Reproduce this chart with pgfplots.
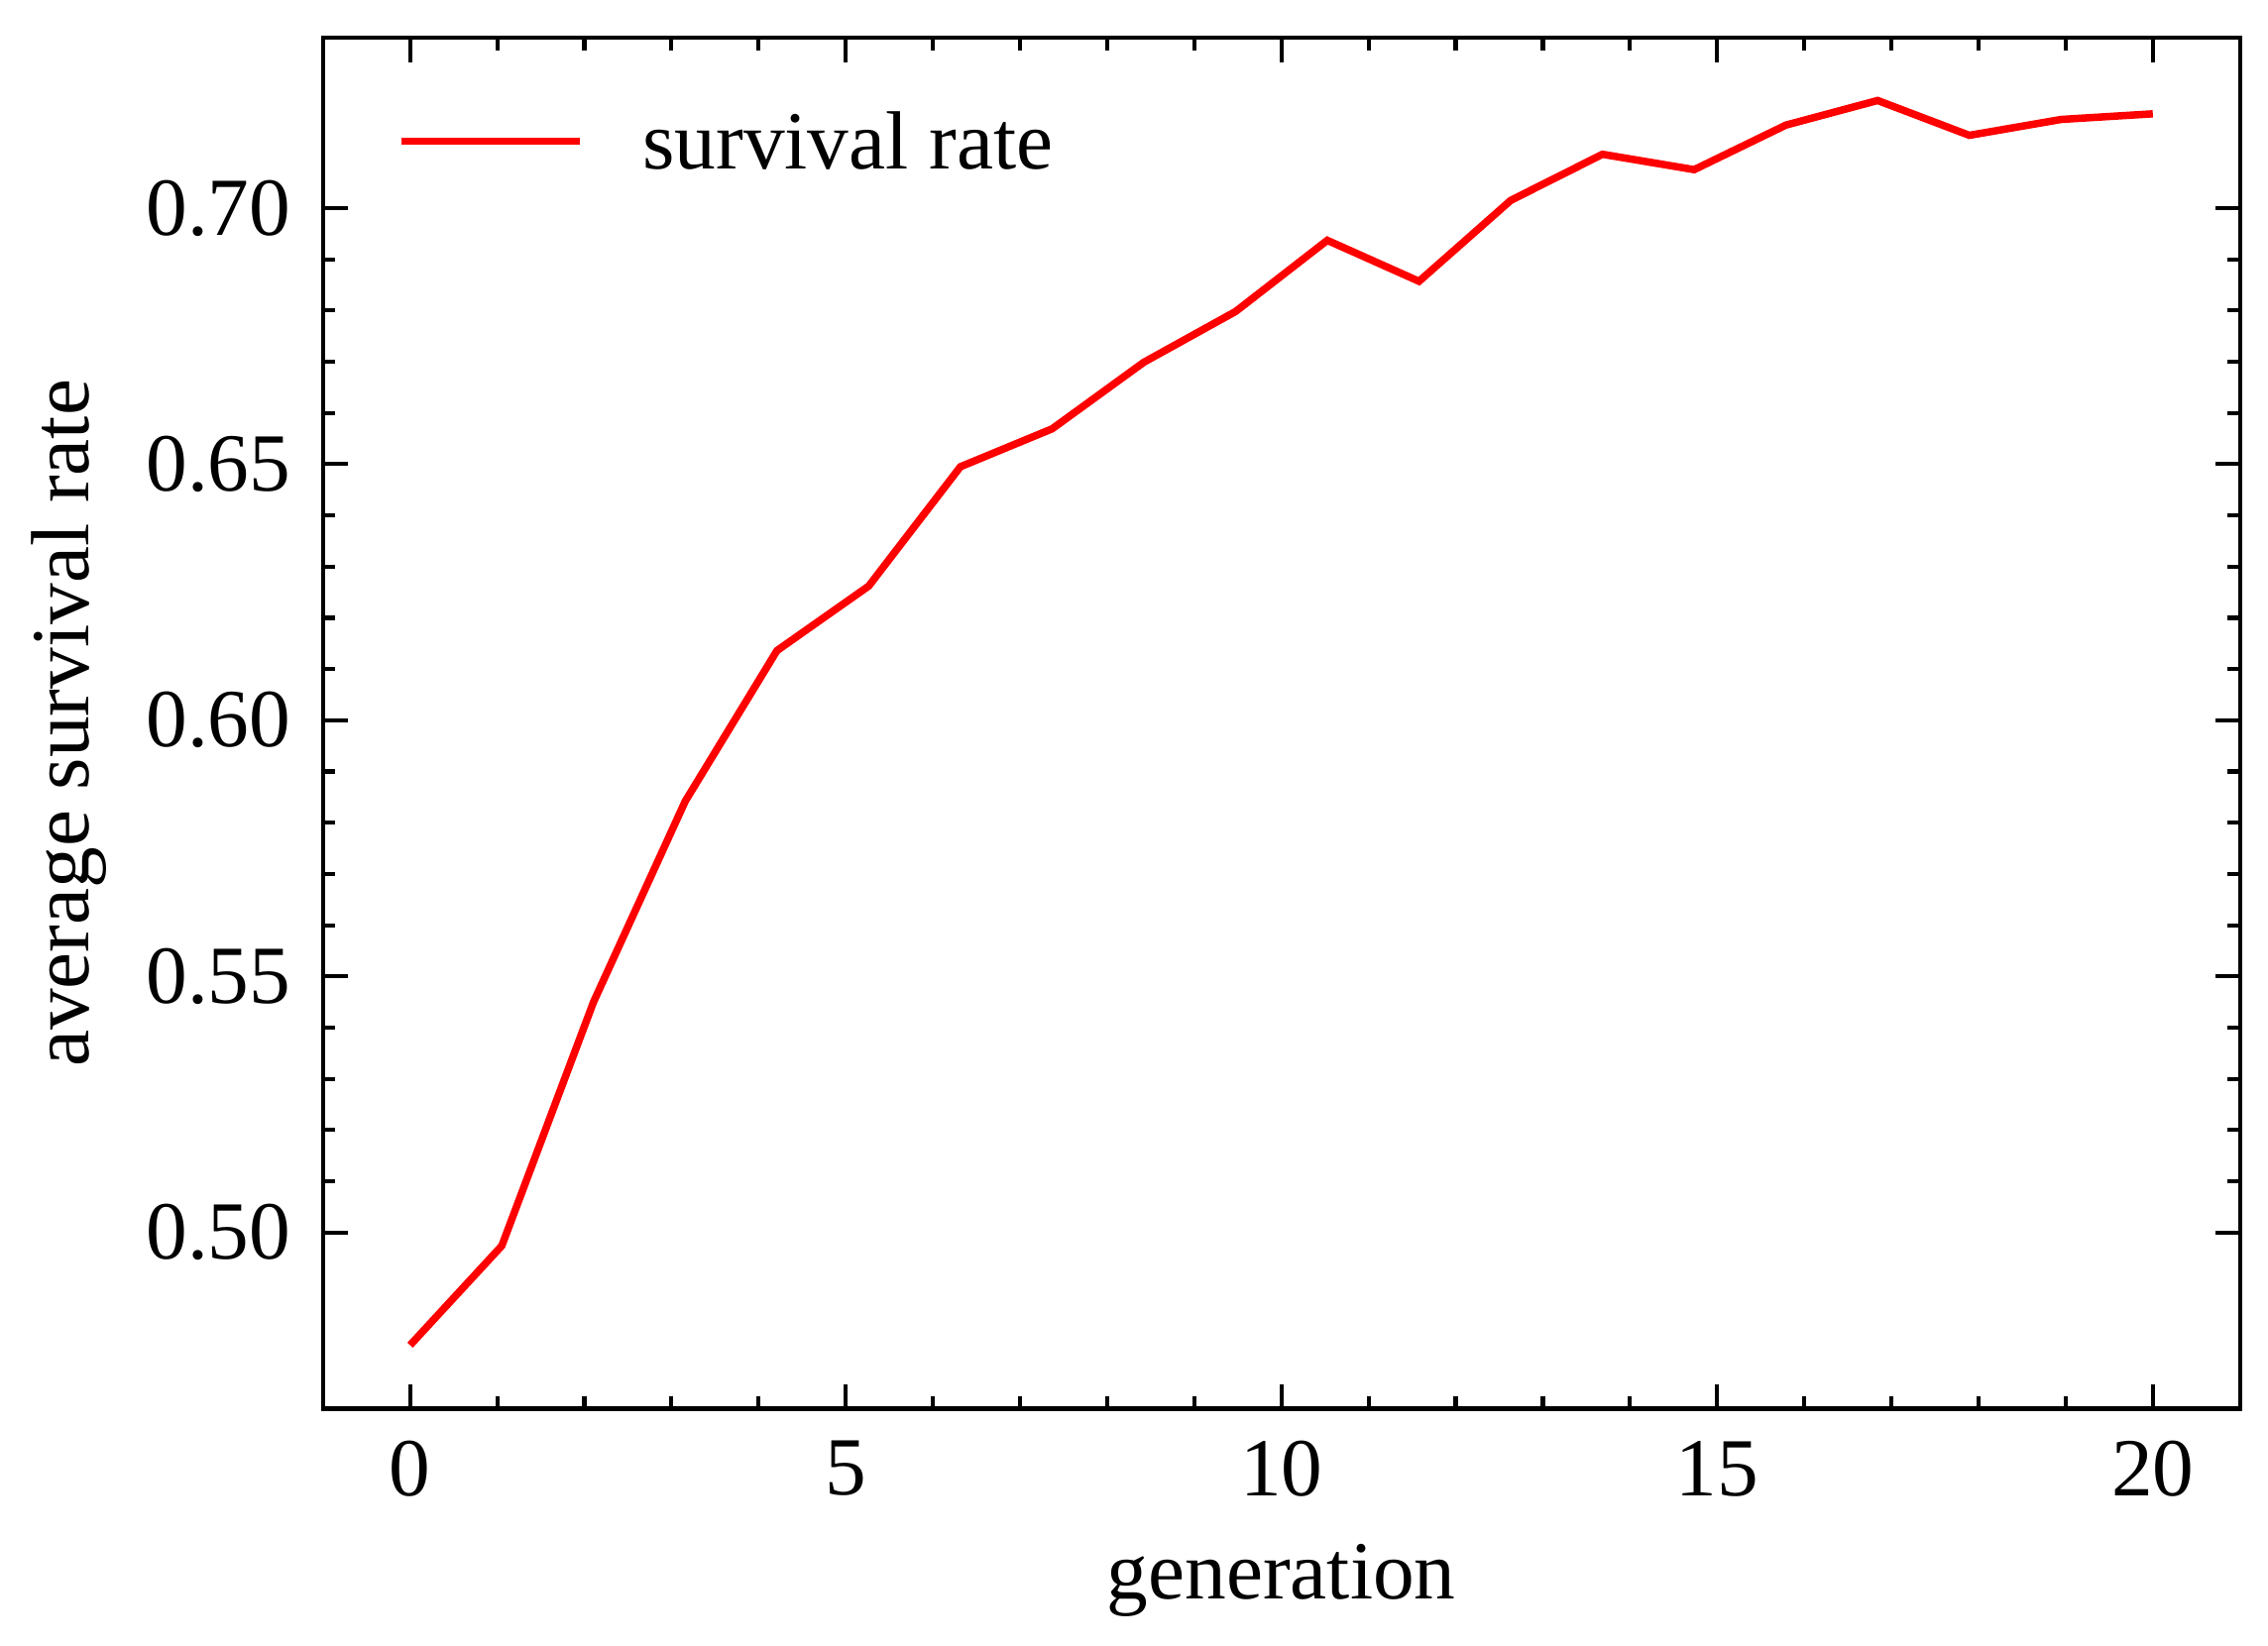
\documentclass[border=0pt]{standalone}
\usepackage{fontspec}
\setmainfont{Liberation Serif}
\usepackage{pgfplots}
\pgfplotsset{compat=1.18}

\begin{document}
\begin{tikzpicture}
\begin{axis}[
    scale only axis,
    width=232.1pt, height=166.0pt,
    xmin=-1, xmax=21,
    ymin=0.4656, ymax=0.7332,
    xtick={0,5,10,15,20},
    ytick={0.50,0.55,0.60,0.65,0.70},
    minor x tick num=4,
    minor y tick num=4,
    tick align=inside,
    major tick length=3pt,
    minor tick length=1.5pt,
    every tick/.style={black, line width=0.5pt},
    axis line style={line width=0.5pt},
    /pgf/number format/assume math mode=true,
    xticklabel style={inner sep=0pt, yshift=-3.7pt},
    yticklabel style={inner sep=0pt, xshift=-3.7pt,
        /pgf/number format/fixed, /pgf/number format/fixed zerofill,
        /pgf/number format/precision=2},
    xlabel={generation},
    ylabel={average survival rate},
    every axis x label/.style={at={(axis description cs:0.5,-0.1388)}, anchor=base},
    every axis y label/.style={at={(axis description cs:-0.122,0.5)}, rotate=90, anchor=base},
    legend style={at={(axis description cs:0.0388,0.9248)}, anchor=west,
        draw=none, fill=none, inner sep=0pt, outer sep=0pt,
        column sep=7.2pt, nodes={inner sep=0pt}},
    legend image code/.code={\draw[#1] (0pt,0pt) -- (21.6pt,0pt);},
]
\addplot[red, line width=0.9pt] coordinates {
    (0.0000,0.4780)
    (1.0526,0.4974)
    (2.1053,0.5450)
    (3.1579,0.5842)
    (4.2105,0.6136)
    (5.2632,0.6262)
    (6.3158,0.6495)
    (7.3684,0.6569)
    (8.4211,0.6699)
    (9.4737,0.6798)
    (10.5263,0.6937)
    (11.5789,0.6857)
    (12.6316,0.7015)
    (13.6842,0.7105)
    (14.7368,0.7075)
    (15.7895,0.7162)
    (16.8421,0.7210)
    (17.8947,0.7142)
    (18.9474,0.7173)
    (20.0000,0.7184)
};
\legend{\raisebox{-0.6pt}[\height][\depth]{survival rate}}
\end{axis}
\pgfresetboundingbox
\path[use as bounding box] (-39.1pt,-28.7pt) rectangle (235.5pt,170.6pt);
\end{tikzpicture}
\end{document}
